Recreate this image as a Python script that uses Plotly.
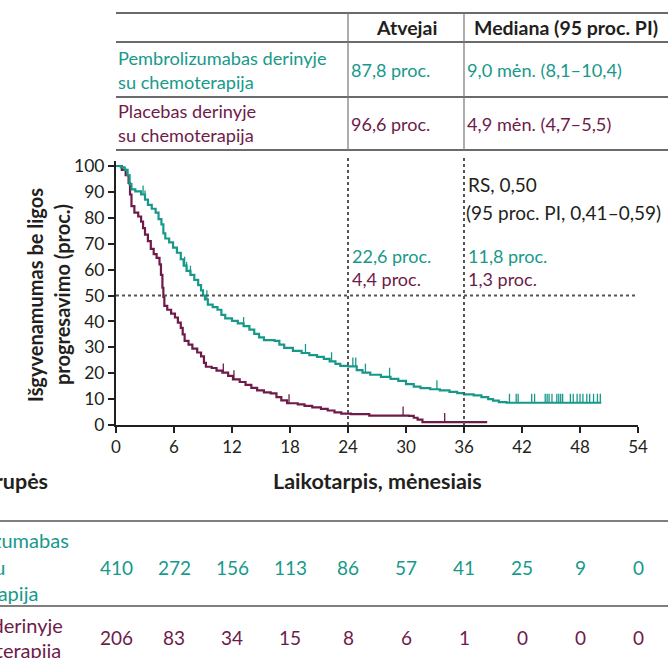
import numpy as np
import plotly.graph_objects as go

W, H = 668, 658
TEAL = "#17998a"
MAROON = "#6e1b4a"
DARK = "#231f20"
FONT = "Lato"

months = [0, 6, 12, 18, 24, 30, 36, 42, 48, 54]
y_ticks = [0, 10, 20, 30, 40, 50, 60, 70, 80, 90, 100]

pembro_t = [0, 0.5, 0.9, 1.2, 1.4, 1.6, 2.0, 2.6, 3.0, 3.3, 3.7, 4.1, 4.4, 4.7, 4.9, 5.1, 5.5, 5.9,
            6.3, 6.7, 7.0, 7.3, 7.7, 8.1, 8.5, 8.8, 9.0, 9.2, 9.5, 10.0, 10.5, 10.9, 11.3, 12.0,
            12.6, 13.2, 13.8, 14.3, 14.8, 15.3, 16.4, 16.9, 17.4, 18.3, 19.2, 20.0, 20.8, 21.5,
            22.1, 22.7, 23.2, 24.0, 24.9, 25.5, 26.3, 27.4, 28.4, 29.2, 30.0, 30.8, 31.5, 32.5,
            33.5, 34.5, 35.3, 36.0, 37.0, 37.8, 38.5, 39.0, 39.6, 40.4, 50.2]
pembro_s = [100, 99.5, 98.5, 96.5, 93, 91, 90.2, 89, 87, 85, 83.5, 82, 79.5, 77.5, 74, 72, 70.5, 68.5,
            66.5, 64, 61.5, 59.5, 58, 56, 54, 52, 50, 48.5, 46.5, 45.5, 44.5, 42.5, 41.2, 40.2,
            39.2, 38.2, 36.8, 35.2, 33.8, 32.8, 32.5, 31, 29.8, 28.6, 27.8, 27, 26.3, 25.5,
            24.6, 23.6, 22.8, 22.6, 21.2, 20.2, 19.4, 18.6, 17.8, 17, 15.8, 14.8, 14.2, 13.8,
            13.4, 12.8, 12.3, 11.8, 11.4, 10.8, 10.0, 9.4, 8.8, 8.6, 8.6]

placebo_t = [0, 0.6, 1.0, 1.3, 1.45, 1.6, 1.9, 2.3, 2.6, 2.8, 3.0, 3.3, 3.6, 3.9, 4.2, 4.5, 4.65, 4.8,
             4.9, 5.0, 5.3, 5.7, 6.1, 6.4, 6.7, 6.9, 7.1, 7.5, 7.9, 8.4, 8.8, 9.1, 9.3, 9.9, 10.4,
             11.0, 11.6, 12.1, 12.8, 13.4, 14.0, 14.6, 15.3, 16.0, 16.6, 17.1, 17.7, 18.8, 19.5,
             20.3, 21.2, 21.9, 22.6, 23.3, 24.3, 26.2, 30.3, 30.8, 31.2, 31.7, 38.4]
placebo_s = [100, 98.5, 96.5, 93.5, 89, 84.5, 82, 80.5, 78.5, 76, 73.5, 71, 68, 66, 64.5, 62, 58, 53,
             49.5, 46, 44.5, 43, 41.5, 39.5, 37.5, 35, 32.5, 31, 29.5, 28, 26.5, 24, 22.5, 22, 21,
             20.2, 19, 17.6, 16.6, 15.5, 14.3, 13.4, 12.6, 12.2, 10.8, 9.5, 8.4, 8.0, 7.4,
             6.8, 6.2, 5.6, 4.9, 4.4, 4.2, 3.6, 3.5, 2.8, 2.1, 1.1, 1.1]

pembro_censor = [1.4, 2.8, 3.0, 7.1, 7.3, 7.7, 9.4, 13.2, 19.6, 22.3, 24.5, 24.8, 25.8, 28.3, 33.2,
                 40.7, 41.4, 41.6, 43.0, 43.3, 44.4, 44.6, 44.8, 45.1, 45.6, 45.8, 46.0, 46.2, 47.0,
                 47.3, 47.7, 48.0, 48.3, 48.7, 49.0, 49.4, 49.8, 50.1]
placebo_censor = [11.1, 12.2, 17.9, 29.7, 34.0]

pembro_risk = [410, 272, 156, 113, 86, 57, 41, 25, 9, 0]
placebo_risk = [206, 83, 34, 15, 8, 6, 1, 0, 0, 0]

landmarks = [24, 36]
pembro_landmark = ["22,6 proc.", "11,8 proc."]
placebo_landmark = ["4,4 proc.", "1,3 proc."]

table_header = ["Atvejai", "Mediana (95 proc. PI)"]
pembro_row = ["Pembrolizumabas derinyje<br>su chemoterapija", "87,8 proc.", "9,0 mėn. (8,1–10,4)"]
placebo_row = ["Placebas derinyje<br>su chemoterapija", "96,6 proc.", "4,9 mėn. (4,7–5,5)"]
hr_text = ["RS, 0,50", "(95 proc. PI, 0,41–0,59)"]
pembro_label_lines = ["Pembrolizumabas", "derinyje su", "chemoterapija"]
placebo_label_lines = ["Placebas derinyje", "su chemoterapija"]


def px(x):
    return x / W


def py(y):
    return 1 - y / H


def step_value(ts, ss, t):
    i = int(np.searchsorted(np.array(ts), t, side="right")) - 1
    return ss[max(i, 0)]


def censor_segments(ts, ss, cens, h):
    xs, ys = [], []
    for c in cens:
        v = step_value(ts, ss, c)
        xs += [c, c, None]
        ys += [v, v + h, None]
    return xs, ys


fig = go.Figure()

fig.add_trace(go.Scatter(x=placebo_t, y=placebo_s, mode="lines", line=dict(color=MAROON, width=2.2, shape="hv"),
                         hoverinfo="skip", showlegend=False))
fig.add_trace(go.Scatter(x=pembro_t, y=pembro_s, mode="lines", line=dict(color=TEAL, width=2.2, shape="hv"),
                         hoverinfo="skip", showlegend=False))
cx, cy = censor_segments(placebo_t, placebo_s, placebo_censor, 3.5)
fig.add_trace(go.Scatter(x=cx, y=cy, mode="lines", line=dict(color=MAROON, width=1.3), hoverinfo="skip",
                         showlegend=False))
cx, cy = censor_segments(pembro_t, pembro_s, pembro_censor, 3.5)
fig.add_trace(go.Scatter(x=cx, y=cy, mode="lines", line=dict(color=TEAL, width=1.3), hoverinfo="skip",
                         showlegend=False))

# axes geometry in page pixels: x=0 at 116px, 9.667 px / month; y=0 at 425px, 2.59 px / unit
x_left, x_right = 116, 116 + 54 * 9.667
y_bottom = 425
y_top_val = 102
y_top = y_bottom - y_top_val * 2.59

fig.update_layout(
    width=W, height=H, margin=dict(l=0, r=0, t=0, b=0, pad=0, autoexpand=False),
    paper_bgcolor="white", plot_bgcolor="white",
    font=dict(family=FONT, color=DARK, size=16),
    xaxis=dict(domain=[px(x_left), px(x_right)], range=[0, 54], tickvals=months, automargin=False,
               ticktext=[str(m) for m in months], showline=True, linecolor=DARK, linewidth=2,
               ticks="outside", ticklen=6, tickwidth=2, tickcolor=DARK, showgrid=False, zeroline=False,
               tickfont=dict(size=17, family=FONT, color=DARK)),
    yaxis=dict(domain=[py(y_bottom), py(y_top)], range=[0, y_top_val], tickvals=y_ticks, automargin=False,
               showline=True, linecolor=DARK, linewidth=2, ticks="outside", ticklen=6, tickwidth=2,
               tickcolor=DARK, showgrid=False, zeroline=False,
               tickfont=dict(size=17.5, family=FONT, color=DARK)),
)

shapes = []
dot = dict(color="#555555", width=2, dash="dot")
shapes.append(dict(type="line", xref="x", yref="y", x0=0, x1=54, y0=50, y1=50, line=dot))
for lm in landmarks:
    shapes.append(dict(type="line", xref="x", yref="paper", x0=lm, x1=lm, y0=py(y_bottom), y1=py(157), line=dot))

tline = dict(color="#3a3a3a", width=1.6)
for yy in [13, 42, 97, 150]:
    shapes.append(dict(type="line", xref="paper", yref="paper", x0=px(116), x1=1, y0=py(yy), y1=py(yy), line=tline))
for xx in [348, 464]:
    shapes.append(dict(type="line", xref="paper", yref="paper", x0=px(xx), x1=px(xx), y0=py(13), y1=py(150),
                       line=dict(color="#777777", width=1.2)))
for yy in [521, 606]:
    shapes.append(dict(type="line", xref="paper", yref="paper", x0=0, x1=1, y0=py(yy), y1=py(yy),
                       line=dict(color="#555555", width=1.3)))
fig.update_layout(shapes=shapes)

ann = []


def add_text(text, x, y, color=DARK, size=17.5, xanchor="left", bold=False, align="left"):
    if bold:
        text = "<b>" + text + "</b>"
    ann.append(dict(text=text, x=px(x), y=py(y), xref="paper", yref="paper",
                    showarrow=False, xanchor=xanchor, yanchor="middle", align=align,
                    font=dict(family=FONT, size=size, color=color)))


# top table
add_text(table_header[0], 407, 28, bold=True, xanchor="center", size=19.5)
add_text(table_header[1], 566, 28, bold=True, xanchor="center", size=19.5)
add_text(pembro_row[0], 116, 70, color=TEAL, size=18.2)
add_text(pembro_row[1], 349, 70, color=TEAL, size=18)
add_text(pembro_row[2], 465, 70, color=TEAL, size=18.2)
add_text(placebo_row[0], 116, 123, color=MAROON, size=18.2)
add_text(placebo_row[1], 349, 124, color=MAROON, size=18)
add_text(placebo_row[2], 465, 124, color=MAROON, size=18.2)

# in-plot annotations
add_text(hr_text[0], 466, 185, size=19)
add_text(hr_text[1], 464, 212, size=19)
for lm, a, b in zip(landmarks, pembro_landmark, placebo_landmark):
    ann.append(dict(text=a, x=lm, y=py(256), xref="x", yref="paper", showarrow=False, xanchor="left",
                    xshift=2, yanchor="middle", font=dict(family=FONT, size=18, color=TEAL)))
    ann.append(dict(text=b, x=lm, y=py(279), xref="x", yref="paper", showarrow=False, xanchor="left",
                    xshift=2, yanchor="middle", font=dict(family=FONT, size=18, color=MAROON)))

# y axis title
ann.append(dict(text="<b>Išgyvenamumas be ligos</b>", x=px(35), y=py(295), xref="paper", yref="paper",
                showarrow=False, textangle=-90, xanchor="center", yanchor="middle",
                font=dict(family=FONT, size=20, color=DARK)))
ann.append(dict(text="<b>progresavimo (proc.)</b>", x=px(62), y=py(295), xref="paper", yref="paper",
                showarrow=False, textangle=-90, xanchor="center", yanchor="middle",
                font=dict(family=FONT, size=20, color=DARK)))

# x axis title and risk table
add_text("Laikotarpis, mėnesiais", 377, 481, bold=True, xanchor="center", size=21.5)
add_text("Rizikos grupės", 50, 481, bold=True, xanchor="right", size=21.5)

for line, right, yy in zip(pembro_label_lines, [71, 7, 40], [540, 567, 593]):
    add_text(line, right, yy, color=TEAL, size=20, xanchor="right")
for line, right, yy in zip(placebo_label_lines, [65, 63], [625, 650]):
    add_text(line, right, yy, color=MAROON, size=20, xanchor="right")

for m, r1, r2 in zip(months, pembro_risk, placebo_risk):
    ann.append(dict(text=str(r1), x=m, y=py(567), xref="x", yref="paper", showarrow=False, xanchor="center",
                    yanchor="middle", font=dict(family=FONT, size=19, color=TEAL)))
    ann.append(dict(text=str(r2), x=m, y=py(637), xref="x", yref="paper", showarrow=False, xanchor="center",
                    yanchor="middle", font=dict(family=FONT, size=19, color=MAROON)))

fig.update_layout(annotations=ann)
fig.write_html("out.html")
